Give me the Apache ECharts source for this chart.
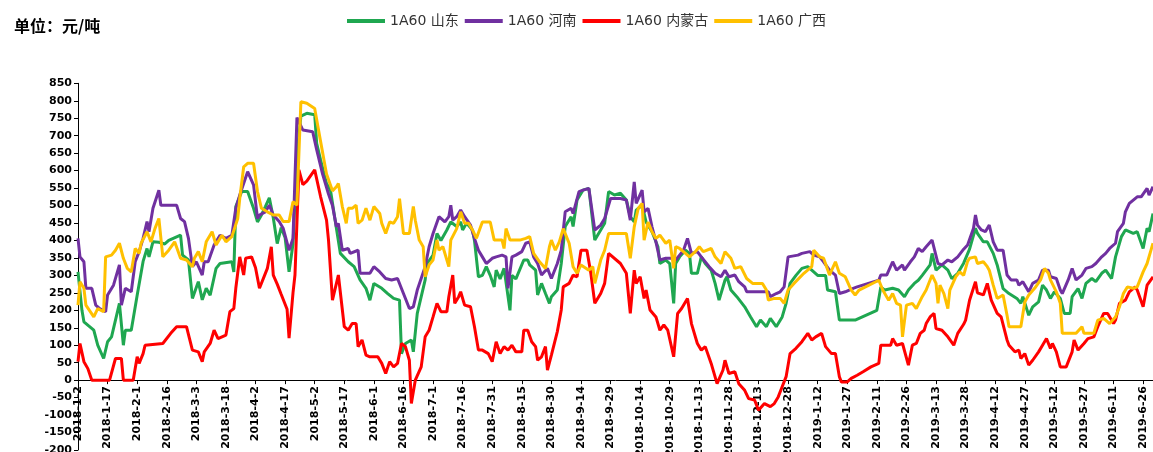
<!DOCTYPE html>
<html><head><meta charset="utf-8">
<script src="https://cdn.jsdelivr.net/npm/echarts@6/dist/echarts.min.js"></script>
<style>html,body{margin:0;padding:0;background:#fff;overflow:hidden;}#c{width:1153px;height:452px;}</style>
</head><body><div id="c"></div>
<script>
// Categories: every calendar day from 2018-1-2 (index 0) to 2019-7-1 (index 545)
const startDate = [2018, 0, 2];
const dayCount = 546;
const categories = [];
for (let i = 0; i < dayCount; i++) {
  const d = new Date(Date.UTC(startDate[0], startDate[1], startDate[2] + i));
  categories.push(d.getUTCFullYear() + '-' + (d.getUTCMonth() + 1) + '-' + d.getUTCDate());
}
const seriesNames = ['1A60 山东', '1A60 河南', '1A60 内蒙古', '1A60 广西'];
const yTicks = { min: -200, max: 850, step: 50 };

// [day index, value]
const shandong = [[0,310],[2,200],[3,167],[8,143],[10,100],[13,62],[15,110],[17,124],[21,220],[23,100],[24,143],[27,143],[30,243],[33,340],[35,377],[36,353],[38,396],[41,395],[44,390],[46,400],[50,410],[52,415],[53,358],[56,344],[58,234],[61,282],[63,230],[65,263],[67,243],[70,320],[72,334],[78,339],[79,310],[80,497],[83,540],[86,540],[89,492],[91,453],[93,473],[95,497],[97,522],[99,465],[101,391],[103,437],[105,408],[107,310],[109,390],[111,640],[113,756],[116,764],[120,760],[121,678],[123,630],[126,563],[128,544],[131,435],[133,363],[137,339],[140,325],[143,287],[146,263],[148,229],[150,277],[154,263],[157,248],[160,234],[163,229],[164,76],[166,105],[169,115],[170,81],[172,191],[176,287],[177,334],[180,358],[182,420],[184,400],[187,430],[189,453],[192,440],[194,453],[195,430],[197,450],[200,430],[201,400],[203,296],[205,300],[207,325],[209,300],[211,267],[212,315],[214,290],[216,320],[219,200],[220,300],[222,290],[226,344],[228,344],[229,330],[232,315],[233,244],[235,277],[237,248],[239,220],[240,239],[243,258],[245,334],[247,440],[250,468],[251,440],[253,516],[256,544],[259,549],[262,401],[265,430],[267,449],[269,540],[272,530],[275,535],[278,516],[280,468],[282,453],[283,487],[286,501],[288,453],[291,425],[294,382],[295,334],[298,344],[300,334],[302,220],[303,334],[305,353],[308,372],[310,363],[311,306],[314,306],[316,353],[318,334],[321,315],[323,277],[325,229],[326,229],[328,286],[329,296],[331,258],[334,239],[338,210],[341,181],[344,153],[346,172],[349,153],[351,177],[354,153],[357,181],[359,220],[361,277],[364,300],[367,320],[370,325],[372,315],[375,300],[379,300],[380,258],[384,253],[386,172],[394,172],[405,200],[407,267],[409,258],[413,263],[416,258],[419,239],[421,258],[424,277],[426,286],[428,300],[432,330],[433,363],[435,315],[438,330],[441,315],[443,291],[446,306],[449,335],[452,375],[455,435],[456,420],[459,396],[461,396],[464,363],[466,330],[469,262],[472,248],[476,234],[478,220],[479,239],[482,186],[484,210],[487,224],[489,272],[491,258],[493,234],[495,253],[498,234],[500,191],[503,191],[504,239],[507,262],[509,234],[511,277],[514,291],[516,282],[519,306],[521,315],[524,291],[526,353],[529,411],[531,430],[535,420],[537,425],[540,377],[542,435],[543,425],[545,477]];

const henan = [[0,406],[1,353],[3,339],[4,263],[7,263],[9,215],[11,205],[14,196],[15,244],[18,272],[21,330],[22,215],[24,263],[27,253],[29,339],[31,368],[33,406],[35,454],[36,425],[38,492],[41,544],[42,501],[45,501],[50,501],[52,463],[54,454],[56,406],[58,325],[60,339],[63,301],[64,339],[66,339],[69,387],[72,415],[75,406],[78,415],[80,492],[82,530],[86,597],[87,597],[89,559],[91,463],[92,473],[95,482],[97,501],[99,473],[102,454],[104,435],[107,372],[109,406],[111,752],[114,716],[119,711],[121,660],[124,590],[127,533],[129,500],[131,439],[132,449],[134,372],[137,377],[138,363],[142,372],[143,306],[148,306],[150,325],[153,310],[156,291],[159,287],[162,291],[165,248],[168,205],[170,210],[172,258],[176,325],[178,382],[180,420],[183,468],[184,463],[186,453],[188,468],[189,501],[190,458],[192,468],[194,487],[196,468],[199,444],[201,406],[203,372],[205,353],[207,334],[210,349],[212,353],[215,358],[217,353],[218,263],[220,353],[222,358],[225,368],[227,392],[229,396],[231,353],[233,334],[235,301],[238,320],[240,291],[243,334],[245,372],[247,482],[250,492],[251,477],[254,540],[256,544],[259,549],[262,430],[265,444],[267,463],[270,520],[275,520],[278,516],[280,458],[282,568],[283,506],[286,544],[287,482],[289,492],[291,439],[293,396],[295,344],[298,349],[301,349],[303,344],[305,358],[307,372],[309,406],[311,363],[314,368],[316,353],[320,325],[323,306],[326,296],[328,315],[330,296],[333,301],[335,282],[338,267],[339,253],[345,253],[350,253],[351,239],[354,248],[356,253],[358,267],[360,353],[365,358],[367,363],[371,368],[373,358],[376,353],[378,339],[381,315],[384,301],[386,248],[389,253],[390,248],[393,263],[395,267],[406,286],[407,301],[410,301],[413,339],[415,315],[418,330],[419,315],[422,339],[424,353],[426,377],[428,368],[430,382],[433,401],[436,334],[438,330],[441,344],[443,339],[446,353],[449,375],[451,387],[454,435],[455,473],[456,444],[458,430],[460,425],[462,444],[464,396],[466,372],[467,377],[469,372],[471,301],[473,287],[476,287],[477,272],[479,282],[482,253],[484,277],[487,287],[489,315],[492,315],[493,296],[496,291],[498,258],[499,248],[502,287],[504,320],[506,287],[509,301],[511,320],[514,325],[516,334],[519,353],[521,363],[523,377],[526,392],[527,425],[530,449],[531,482],[533,506],[537,525],[539,525],[542,549],[543,530],[545,554]];

const neimenggu = [[0,53],[1,105],[2,105],[3,53],[5,33],[7,0],[16,0],[19,62],[22,62],[23,0],[28,0],[30,67],[31,48],[33,76],[34,100],[43,105],[47,134],[50,153],[55,153],[58,86],[61,81],[63,53],[64,81],[67,105],[69,143],[71,119],[75,129],[77,196],[79,205],[80,263],[82,353],[84,301],[85,349],[86,353],[88,353],[90,322],[92,263],[93,263],[96,320],[98,382],[99,301],[101,275],[103,246],[106,203],[107,120],[109,250],[110,301],[112,602],[114,560],[116,570],[120,602],[123,525],[126,458],[127,401],[129,229],[132,301],[135,153],[137,143],[139,162],[141,162],[142,96],[144,115],[146,72],[148,67],[152,67],[154,48],[156,19],[158,53],[160,38],[162,48],[164,105],[166,96],[168,57],[169,-67],[171,0],[174,38],[176,124],[178,143],[180,181],[182,220],[184,196],[187,196],[188,239],[190,301],[191,220],[193,239],[194,253],[196,215],[199,210],[201,153],[203,86],[205,86],[208,76],[210,53],[212,110],[214,76],[216,96],[218,86],[220,100],[222,81],[225,81],[226,143],[228,143],[230,110],[232,96],[233,57],[235,67],[237,96],[238,29],[240,72],[243,139],[245,201],[246,267],[249,277],[251,301],[253,296],[255,372],[258,372],[260,306],[262,220],[265,248],[267,277],[269,363],[270,363],[275,334],[278,306],[280,191],[282,315],[283,277],[285,296],[287,234],[288,258],[290,201],[293,181],[295,143],[297,158],[299,143],[302,67],[304,191],[306,205],[309,234],[311,162],[314,105],[316,86],[318,96],[321,48],[324,-10],[327,29],[328,57],[330,19],[333,24],[335,-10],[338,-29],[340,-53],[343,-57],[345,-86],[348,-67],[351,-76],[353,-67],[355,-48],[357,-19],[359,10],[361,76],[364,91],[367,110],[370,134],[372,115],[374,124],[377,134],[379,96],[382,76],[384,76],[386,10],[387,-5],[390,-5],[392,5],[395,14],[398,24],[402,38],[406,48],[407,100],[412,100],[413,119],[415,100],[418,105],[421,43],[423,100],[425,105],[427,134],[429,143],[430,162],[432,181],[434,191],[435,148],[438,143],[441,124],[444,100],[446,134],[449,160],[450,172],[452,229],[455,282],[456,250],[459,244],[461,277],[463,229],[466,191],[468,181],[471,115],[472,100],[475,81],[477,86],[478,62],[480,76],[482,43],[484,57],[487,81],[489,100],[491,119],[493,91],[494,105],[496,81],[498,38],[501,38],[504,81],[505,115],[507,86],[510,105],[512,119],[515,124],[517,153],[520,191],[522,191],[525,162],[526,172],[528,220],[531,229],[533,253],[536,267],[537,258],[540,210],[542,272],[543,277],[545,296]];

const guangxi = [[0,215],[1,282],[3,263],[4,215],[8,181],[10,205],[13,196],[14,353],[17,358],[19,372],[21,392],[23,349],[25,320],[27,310],[29,377],[31,363],[32,392],[35,425],[37,396],[39,434],[41,463],[43,353],[46,372],[49,396],[52,349],[55,344],[58,325],[59,349],[61,368],[63,339],[65,396],[68,425],[70,387],[73,415],[75,396],[78,411],[81,463],[82,520],[84,611],[86,621],[89,621],[91,540],[93,492],[96,482],[99,473],[102,473],[104,454],[107,454],[109,511],[111,501],[113,797],[116,793],[120,778],[123,683],[126,590],[129,542],[131,554],[132,563],[134,497],[136,449],[137,492],[139,492],[141,501],[142,449],[144,458],[146,492],[148,458],[150,497],[153,477],[154,449],[156,420],[158,453],[160,449],[162,468],[163,520],[165,420],[168,420],[170,497],[171,458],[173,401],[175,382],[176,296],[178,330],[180,344],[182,401],[183,372],[185,382],[188,325],[189,401],[192,434],[194,482],[196,449],[198,449],[200,430],[202,406],[205,453],[209,453],[211,401],[215,401],[216,377],[217,434],[219,401],[224,401],[227,406],[229,411],[231,363],[234,339],[237,320],[239,382],[240,401],[242,372],[244,396],[246,434],[249,392],[251,325],[253,306],[255,330],[259,315],[261,325],[262,277],[265,344],[267,372],[269,420],[275,420],[278,420],[280,349],[282,439],[284,492],[286,506],[287,401],[289,453],[291,425],[293,406],[295,415],[298,392],[300,401],[302,320],[303,382],[305,377],[308,363],[310,353],[313,368],[315,382],[317,368],[321,377],[323,353],[326,334],[328,368],[331,349],[333,320],[336,325],[339,291],[342,277],[345,277],[347,277],[349,258],[350,229],[353,234],[356,234],[358,220],[360,258],[363,277],[368,306],[372,325],[373,372],[376,353],[378,349],[381,301],[384,339],[386,306],[389,296],[392,258],[394,244],[396,258],[406,286],[408,258],[411,229],[413,248],[415,220],[417,215],[418,124],[420,215],[423,220],[425,205],[428,239],[430,258],[433,301],[435,277],[436,220],[437,272],[439,248],[441,205],[442,258],[445,296],[447,310],[449,300],[451,340],[452,349],[455,353],[456,334],[459,339],[461,325],[462,315],[464,272],[466,234],[467,239],[469,244],[471,186],[472,153],[476,153],[478,153],[480,224],[482,244],[485,263],[488,287],[490,320],[492,306],[493,287],[496,253],[498,220],[499,134],[503,134],[506,134],[509,153],[510,134],[513,134],[515,134],[517,172],[520,177],[523,162],[526,181],[528,210],[530,248],[532,267],[535,263],[537,267],[540,310],[542,334],[543,330],[545,392]];

const colors = ['#1FA750', '#7030A0', '#FF0000', '#FFC000'];
const allData = [shandong, henan, neimenggu, guangxi];

// plot box in pixels (y = -200 at bottom, 850 at top)
const plotTop = 83.3, plotBottomGap = 2, canvasH = 452;
const zeroY = plotTop + (canvasH - plotBottomGap - plotTop) * (yTicks.max / (yTicks.max - yTicks.min));

const chart = echarts.init(document.getElementById('c'));
chart.setOption({
  animation: false,
  backgroundColor: '#fff',
  title: {
    text: '单位：元/吨', left: 9, top: 13,
    textStyle: { fontSize: 16, fontWeight: 'bold', color: '#000', fontFamily: 'Noto Sans CJK SC' }
  },
  legend: {
    data: seriesNames, left: 342, top: 9,
    icon: 'rect', itemWidth: 38, itemHeight: 4, itemGap: 6,
    textStyle: { fontSize: 14, color: '#333', fontFamily: 'DejaVu Sans, Noto Sans CJK SC' }
  },
  grid: [
    { left: 78, right: 0, top: plotTop, bottom: plotBottomGap, containLabel: false, outerBoundsMode: 'none' },
    { left: 78, right: 0, top: plotTop, bottom: canvasH - zeroY, containLabel: false, outerBoundsMode: 'none' }
  ],
  xAxis: [
    { type: 'category', data: categories, boundaryGap: false, gridIndex: 0, show: false },
    {
      type: 'category', data: categories, boundaryGap: false, gridIndex: 1, position: 'bottom',
      axisLine: { onZero: false, lineStyle: { color: '#000', width: 1 } },
      axisTick: { show: true, interval: 14, length: 4, lineStyle: { color: '#000' } },
      axisLabel: { show: true, interval: 14, rotate: 90, fontSize: 11, fontWeight: 'bold', color: '#000', margin: 6, fontFamily: 'DejaVu Sans' },
      splitLine: { show: false }
    }
  ],
  yAxis: [
    {
      type: 'value', gridIndex: 0, min: yTicks.min, max: yTicks.max, interval: yTicks.step,
      axisLine: { show: true, lineStyle: { color: '#000', width: 1 } },
      axisTick: { show: true, length: 4, lineStyle: { color: '#000' } },
      axisLabel: { fontSize: 11, fontWeight: 'bold', color: '#000', margin: 6, fontFamily: 'DejaVu Sans' },
      splitLine: { show: false }
    },
    { type: 'value', gridIndex: 1, min: 0, max: 1, show: false, splitLine: { show: false } }
  ],
  series: seriesNames.map((n, i) => ({
    name: n, type: 'line', xAxisIndex: 0, yAxisIndex: 0, data: allData[i], showSymbol: false, symbol: 'none',
    lineStyle: { width: 3, color: colors[i] }, itemStyle: { color: colors[i] }
  }))
});
</script></body></html>
